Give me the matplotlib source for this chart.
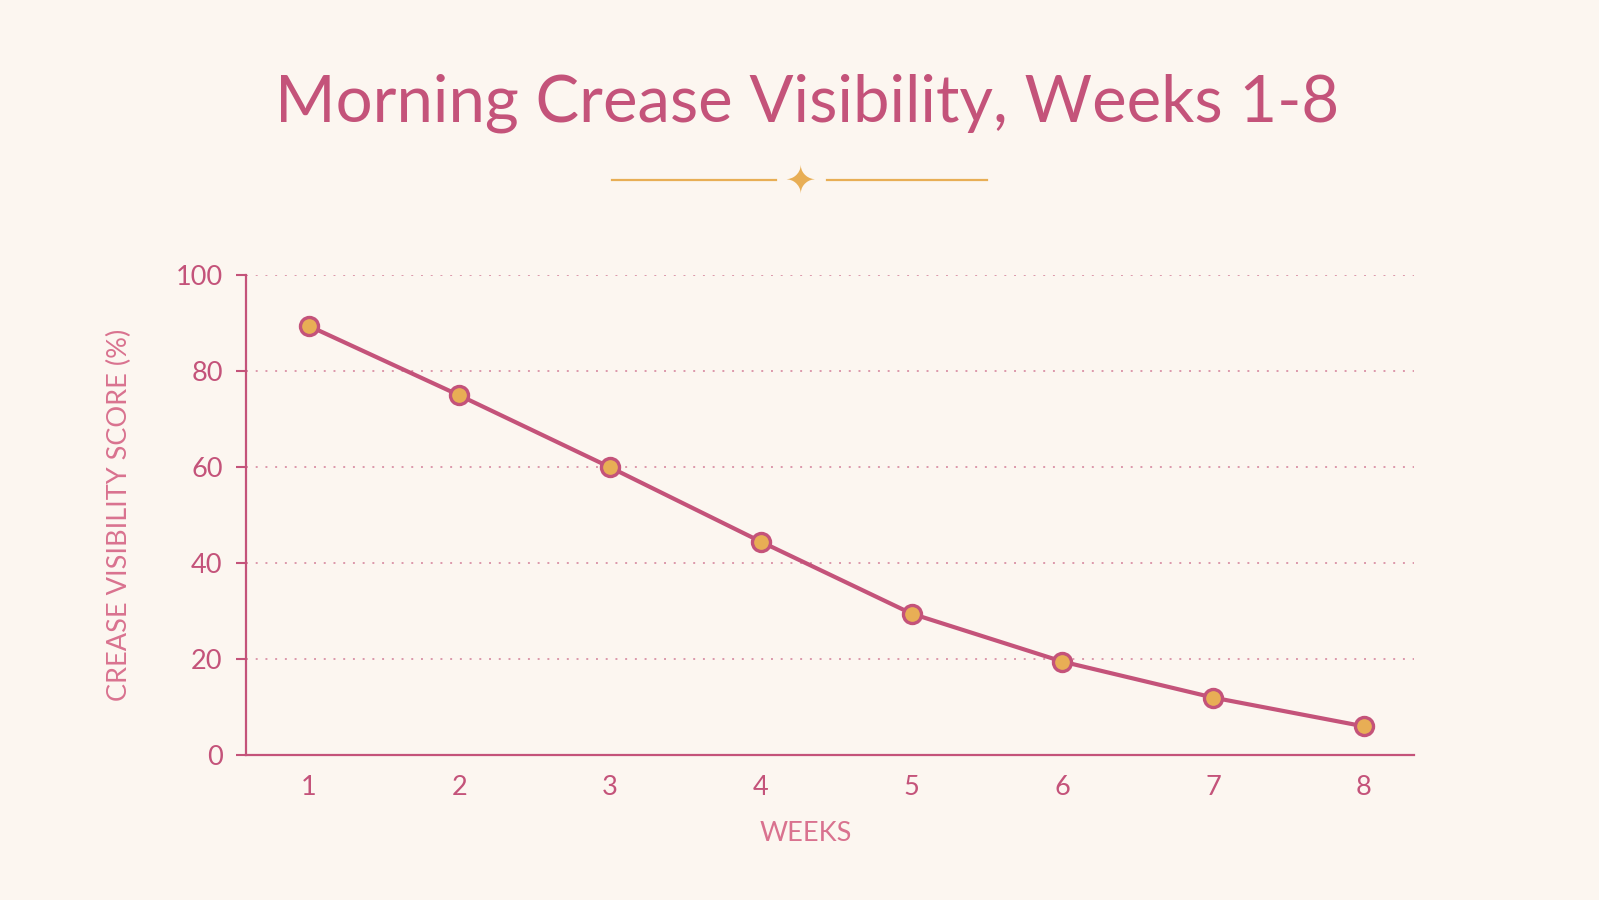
import matplotlib.pyplot as plt
from matplotlib.lines import Line2D

# -----------------------------------------------------------------------------
# data

weeks = [1, 2, 3, 4, 5, 6, 7, 8]
visibility = [89.5, 75, 60, 44.5, 29.5, 19.5, 12, 6]
y_ticks = [0, 20, 40, 60, 80, 100]

title = 'Morning Crease Visibility, Weeks 1-8'
x_label = 'WEEKS'
y_label = 'CREASE VISIBILITY SCORE (%)'

# -----------------------------------------------------------------------------
# style

bg = '#FCF6F0'
pink = '#C4537A'
pink_light = '#D9728F'
gold = '#E8AE55'
grid_col = '#DC98AB'

plt.rcParams['font.family'] = ['Lato', 'DejaVu Sans']

fig = plt.figure(figsize=(15.99, 9.0), dpi=100, facecolor=bg)
ax = fig.add_axes([0.154, 0.161, 0.730, 0.533])
ax.set_facecolor(bg)

# -----------------------------------------------------------------------------
# plot

ax.plot(weeks, visibility, '-', color=pink, lw=3, zorder=3,
        marker='o', markersize=13, markerfacecolor=gold,
        markeredgecolor=pink, markeredgewidth=2.4)

ax.set_xlim(0.587, 8.33)
ax.set_ylim(0, 100)
ax.set_xticks(weeks)
ax.set_yticks(y_ticks)
ax.tick_params(axis='x', length=0, pad=14, labelsize=19.5, labelcolor=pink)
ax.tick_params(axis='y', length=7, width=1.5, color=pink, pad=10,
               labelsize=19.5, labelcolor=pink)

for s in ['top', 'right']:
    ax.spines[s].set_visible(False)
for s in ['left', 'bottom']:
    ax.spines[s].set_color(pink)
    ax.spines[s].set_linewidth(1.6)

for v in y_ticks[1:]:
    ax.axhline(v, color=grid_col, lw=1.4, ls=(0, (1, 4)), zorder=1)

ax.set_xlabel(x_label, color=pink_light, fontsize=19.5)
ax.xaxis.set_label_coords(0.479, -0.137)
ax.set_ylabel(y_label, color=pink_light, fontsize=19.5, labelpad=31)

fig.text(0.505, 0.885, title, ha='center', va='center',
         fontsize=47, color=pink)

# ornament under title
fig.add_artist(Line2D([0.383, 0.485], [0.800, 0.800], color=gold, lw=1.6))
fig.add_artist(Line2D([0.517, 0.617], [0.800, 0.800], color=gold, lw=1.6))
fig.text(0.5005, 0.797, '\u2726', ha='center', va='center',
         fontsize=27, color=gold, family=['DejaVu Sans'])

fig.savefig('out.png', dpi=100, facecolor=bg)
